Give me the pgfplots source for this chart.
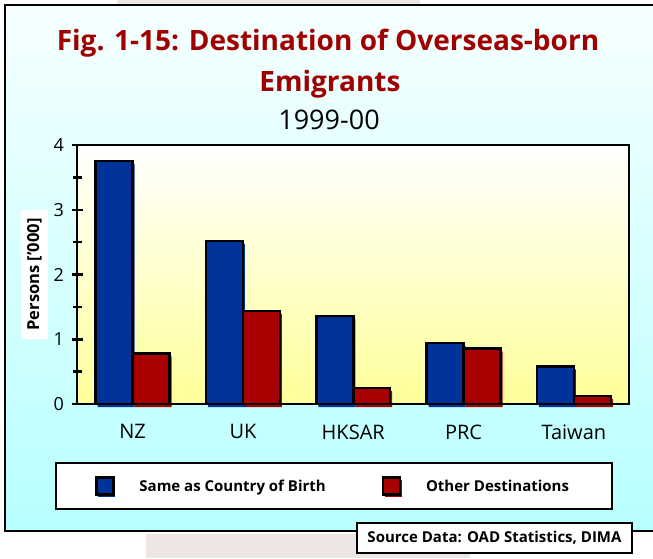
\documentclass[border=0pt]{standalone}
\usepackage{pgfplots}
\pgfplotsset{compat=1.18}
\usepackage{fontspec}
\setmainfont{Open Sans}
\definecolor{barblue}{HTML}{003399}
\definecolor{barred}{HTML}{A80000}
\definecolor{titlered}{HTML}{A00000}
\definecolor{cyanbot}{HTML}{B8FFFF}
\definecolor{cyantop}{HTML}{F6FFFF}
\definecolor{yellowbot}{HTML}{FFFF99}
\definecolor{pinkgray}{HTML}{EEE6E4}
\begin{document}
\begin{tikzpicture}[x=1pt,y=1pt]
\path[use as bounding box] (0,0) rectangle (653,558);
\fill[white] (0,0) rectangle (653,558);
\fill[pinkgray] (146,0) rectangle (470,24);
\fill[pinkgray] (117,554) rectangle (420,558);
\shade[top color=cyantop, bottom color=cyanbot] (5,27) rectangle (665,553);
\draw[line width=2pt] (665,27) -- (5,27) -- (5,553) -- (665,553);
% titles
\node[anchor=base, text=titlered, font=\bfseries\fontsize{28}{32}\selectfont, inner sep=0pt] at (328,507) {Fig. 1-15: Destination of Overseas-born};
\node[anchor=base, text=titlered, font=\bfseries\fontsize{28}{32}\selectfont, inner sep=0pt] at (330,466) {Emigrants};
\node[anchor=base, font=\fontsize{27}{30}\selectfont, inner sep=0pt] at (329,428) {1999-00};
% legend frame
\draw[fill=white, line width=2pt] (56,49) rectangle (612,95);
% source box
\node[draw, line width=2pt, fill=white, minimum width=275pt, minimum height=30pt, inner sep=0pt, font=\bfseries\fontsize{15}{17}\selectfont] at (494.5,20) {Source Data: OAD Statistics, DIMA};
\begin{axis}[
  at={(77.5pt,154pt)}, anchor=south west,
  scale only axis, width=551.5pt, height=259pt,
  xmin=-0.5, xmax=4.5, ymin=0, ymax=4,
  clip=false, axis on top,
  xtick={0,1,2,3,4}, xticklabels={NZ,UK,HKSAR,PRC,Taiwan},
  ytick={0,1,2,3,4}, minor ytick={0.5,1.5,2.5,3.5},
  ytick pos=left, tick align=center,
  major tick length=10pt, minor tick length=9pt,
  every tick/.append style={black, line width=2.5pt},
  major x tick style={draw=none},
  axis line style={line width=2pt},
  axis background/.style={shade, top color=white, bottom color=yellowbot},
  xticklabel style={font=\fontsize{20}{22}\selectfont, yshift=-12pt},
  yticklabel style={font=\fontsize{18}{20}\selectfont, xshift=-5pt},
  /pgf/number format/assume math mode=true,
  ylabel={Persons ['000]},
  ylabel style={at={(axis description cs:-0.078,0.5)}, anchor=center, fill=white, font=\bfseries\fontsize{16.5}{17}\selectfont, inner xsep=8pt, inner ysep=6pt},
  legend columns=2,
  legend cell align=left,
  legend style={at={(axis description cs:0.0317,-0.3185)}, anchor=west, draw=none, fill=none, inner sep=0pt,
    font=\bfseries\fontsize{15}{17}\selectfont,
    /tikz/every odd column/.append style={column sep=22pt},
    /tikz/every even column/.append style={column sep=54pt}},
  legend image code/.code={
    \fill[#1, draw=none] (2pt,-10.5pt) rectangle (19pt,6.5pt);
    \draw[#1] (0pt,-8.5pt) rectangle (17pt,8.5pt);},
]
% shadows
\addplot[ybar, bar width=0.335, bar shift=-0.1675, fill=barblue, draw=none, xshift=2pt, yshift=-3pt, forget plot]
  coordinates {(0,3.75) (1,2.52) (2,1.36) (3,0.94) (4,0.58)};
\addplot[ybar, bar width=0.335, bar shift=0.1675, fill=barred, draw=none, xshift=2pt, yshift=-3pt, forget plot]
  coordinates {(0,0.78) (1,1.44) (2,0.25) (3,0.86) (4,0.12)};
% bars
\addplot[ybar, bar width=0.335, bar shift=-0.1675, fill=barblue, draw=black, line width=2.5pt]
  coordinates {(0,3.75) (1,2.52) (2,1.36) (3,0.94) (4,0.58)};
\addlegendentry{Same as Country of Birth}
\addplot[ybar, bar width=0.335, bar shift=0.1675, fill=barred, draw=black, line width=2.5pt]
  coordinates {(0,0.78) (1,1.44) (2,0.25) (3,0.86) (4,0.12)};
\addlegendentry{Other Destinations}
\end{axis}
\end{tikzpicture}
\end{document}
